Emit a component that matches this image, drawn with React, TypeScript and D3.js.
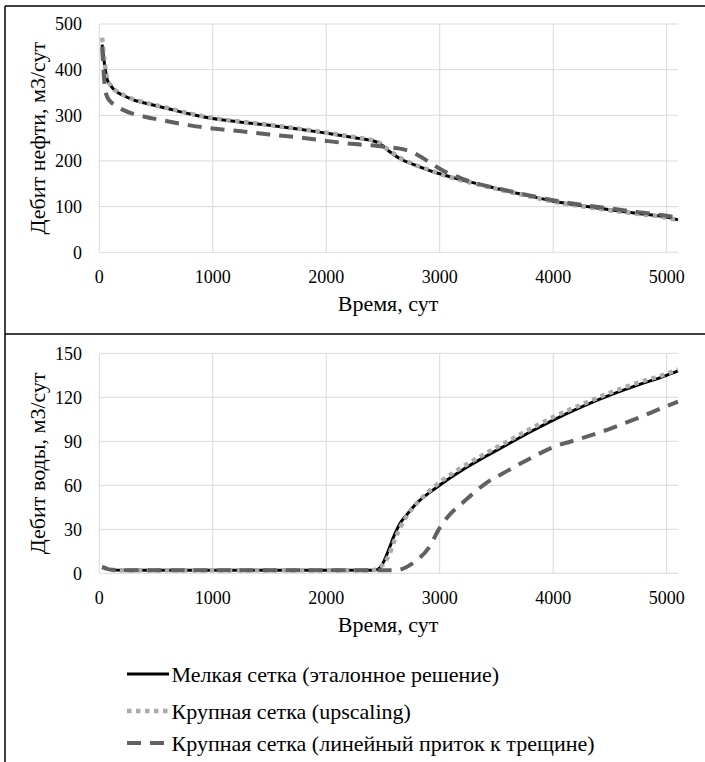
import React from "react";
import * as d3 from "d3";

const oilTime = [25, 50, 70, 100, 150, 200, 300, 400, 600, 800, 1000, 1250, 1500, 1750, 2000, 2250, 2450, 2550, 2650, 2750, 2900, 3000, 3200, 3400, 3600, 3800, 4000, 4250, 4500, 4750, 5000, 5100];
const oilFine = [455, 405, 378, 365, 352, 345, 334, 327, 315, 303, 293, 285, 278, 270, 261, 251, 241, 222, 205, 194, 180, 172, 158, 146, 134, 123, 112, 102, 93, 85, 77, 71];
const oilUpscaled = [470, 410, 380, 366, 353, 346, 335, 328, 316, 304, 294, 286, 279, 271, 262, 252, 242, 224, 207, 195, 181, 172, 157, 145, 133, 122, 111, 101, 92, 84, 76, 70];
const oilLinear = [450, 360, 340, 330, 320, 313, 303, 297, 287, 278, 271, 265, 258, 252, 244, 237, 233, 230, 227, 220, 199, 183, 161, 146, 135, 124, 114, 104, 96, 88, 80, 76];

const waterTime = [25, 100, 200, 400, 1000, 2000, 2400, 2450, 2500, 2550, 2600, 2650, 2700, 2800, 2900, 3000, 3100, 3200, 3400, 3600, 3800, 4000, 4250, 4500, 4750, 5000, 5100];
const waterFine = [4, 2.5, 2, 2, 2, 2, 2, 2.5, 7, 16, 26, 34, 39, 48, 54.5, 60, 65.5, 70.5, 79.5, 88, 96.5, 104.5, 113.5, 121.5, 128.5, 135, 138];
const waterUpscaled = [4, 2.5, 2, 2, 2, 2, 2, 3, 6, 12, 22, 31, 38, 48, 55.5, 62, 67.5, 72.5, 81.5, 90, 98.5, 106.5, 115, 123, 130, 136, 139];
const waterLinear = [4.5, 2.5, 2, 2, 2, 2, 2, 2, 2, 2, 2, 2.5, 4, 9, 17, 31, 41, 48, 61, 70, 78.5, 86, 92, 98.5, 106, 114, 117];

const xTicks = [0, 1000, 2000, 3000, 4000, 5000];
const oilTicks = [0, 100, 200, 300, 400, 500];
const waterTicks = [0, 30, 60, 90, 120, 150];

const seriesNames = [
  "Мелкая сетка (эталонное решение)",
  "Крупная сетка (upscaling)",
  "Крупная сетка (линейный приток к трещине)",
];

const styles = [
  { stroke: "#000000", width: 3, dash: "none" },
  { stroke: "#ababab", width: 4.5, dash: "4.5 4.5" },
  { stroke: "#616161", width: 4, dash: "14 9" },
];

const FONT = "Liberation Serif";

function Panel({ top, bottom, yMax, yTicks, yTitle, time, series }: any) {
  const x = d3.scaleLinear().domain([0, 5100]).range([99.3, 678]);
  const y = d3.scaleLinear().domain([0, yMax]).range([bottom, top]);
  const line = d3
    .line<[number, number]>()
    .x((d) => x(d[0]))
    .y((d) => y(d[1]))
    .curve(d3.curveMonotoneX);
  return (
    <g>
      {yTicks.map((t: number) => (
        <line key={"h" + t} x1={x(0)} x2={x(5100)} y1={y(t)} y2={y(t)} stroke="#d9d9d9" strokeWidth={1} />
      ))}
      {xTicks.map((t) => (
        <line key={"v" + t} x1={x(t)} x2={x(t)} y1={y(0)} y2={y(yMax)} stroke="#d9d9d9" strokeWidth={1} />
      ))}
      {series.map((vals: number[], i: number) => (
        <path
          key={i}
          d={line(time.map((t: number, j: number) => [t, vals[j]]) as any) || ""}
          fill="none"
          stroke={styles[i].stroke}
          strokeWidth={styles[i].width}
          strokeDasharray={styles[i].dash}
        />
      ))}
      {yTicks.map((t: number) => (
        <text key={"yt" + t} x={82} y={y(t)} dy="0.35em" textAnchor="end" fontSize={18} fontFamily={FONT} fill="#000">
          {t}
        </text>
      ))}
      {xTicks.map((t) => (
        <text key={"xt" + t} x={x(t)} y={y(0) + 24} dy="0.35em" textAnchor="middle" fontSize={18} fontFamily={FONT} fill="#000">
          {t}
        </text>
      ))}
      <text x={388} y={y(0) + 51} dy="0.35em" textAnchor="middle" fontSize={22} fontFamily={FONT} fill="#000">
        Время, сут
      </text>
      <text
        transform={`translate(37,${(top + bottom) / 2}) rotate(-90)`}
        dy="0.35em"
        textAnchor="middle"
        fontSize={22}
        fontFamily={FONT}
        fill="#000"
      >
        {yTitle}
      </text>
    </g>
  );
}

export default function App() {
  const legendY = [674, 711, 743];
  return (
    <svg width={705} height={762} style={{ position: "absolute", left: 0, top: 0, background: "#fff" }}>
      <rect width={705} height={762} fill="#fff" />
      <Panel
        top={24}
        bottom={252.3}
        yMax={500}
        yTicks={oilTicks}
        yTitle="Дебит нефти, м3/сут"
        time={oilTime}
        series={[oilFine, oilUpscaled, oilLinear]}
      />
      <Panel
        top={353.3}
        bottom={573.3}
        yMax={150}
        yTicks={waterTicks}
        yTitle="Дебит воды, м3/сут"
        time={waterTime}
        series={[waterFine, waterUpscaled, waterLinear]}
      />
      {seriesNames.map((name, i) => (
        <g key={name}>
          <line
            x1={127}
            x2={169}
            y1={legendY[i]}
            y2={legendY[i]}
            stroke={styles[i].stroke}
            strokeWidth={styles[i].width}
            strokeDasharray={styles[i].dash}
          />
          <text x={171.5} y={legendY[i]} dy="0.35em" fontSize={22} fontFamily={FONT} fill="#000">
            {name}
          </text>
        </g>
      ))}
      <line x1={5} x2={705} y1={6} y2={6} stroke="#000" strokeWidth={1.5} />
      <line x1={5} x2={705} y1={334} y2={334} stroke="#000" strokeWidth={1.5} />
      <line x1={5} x2={5} y1={6} y2={762} stroke="#000" strokeWidth={1.5} />
    </svg>
  );
}
